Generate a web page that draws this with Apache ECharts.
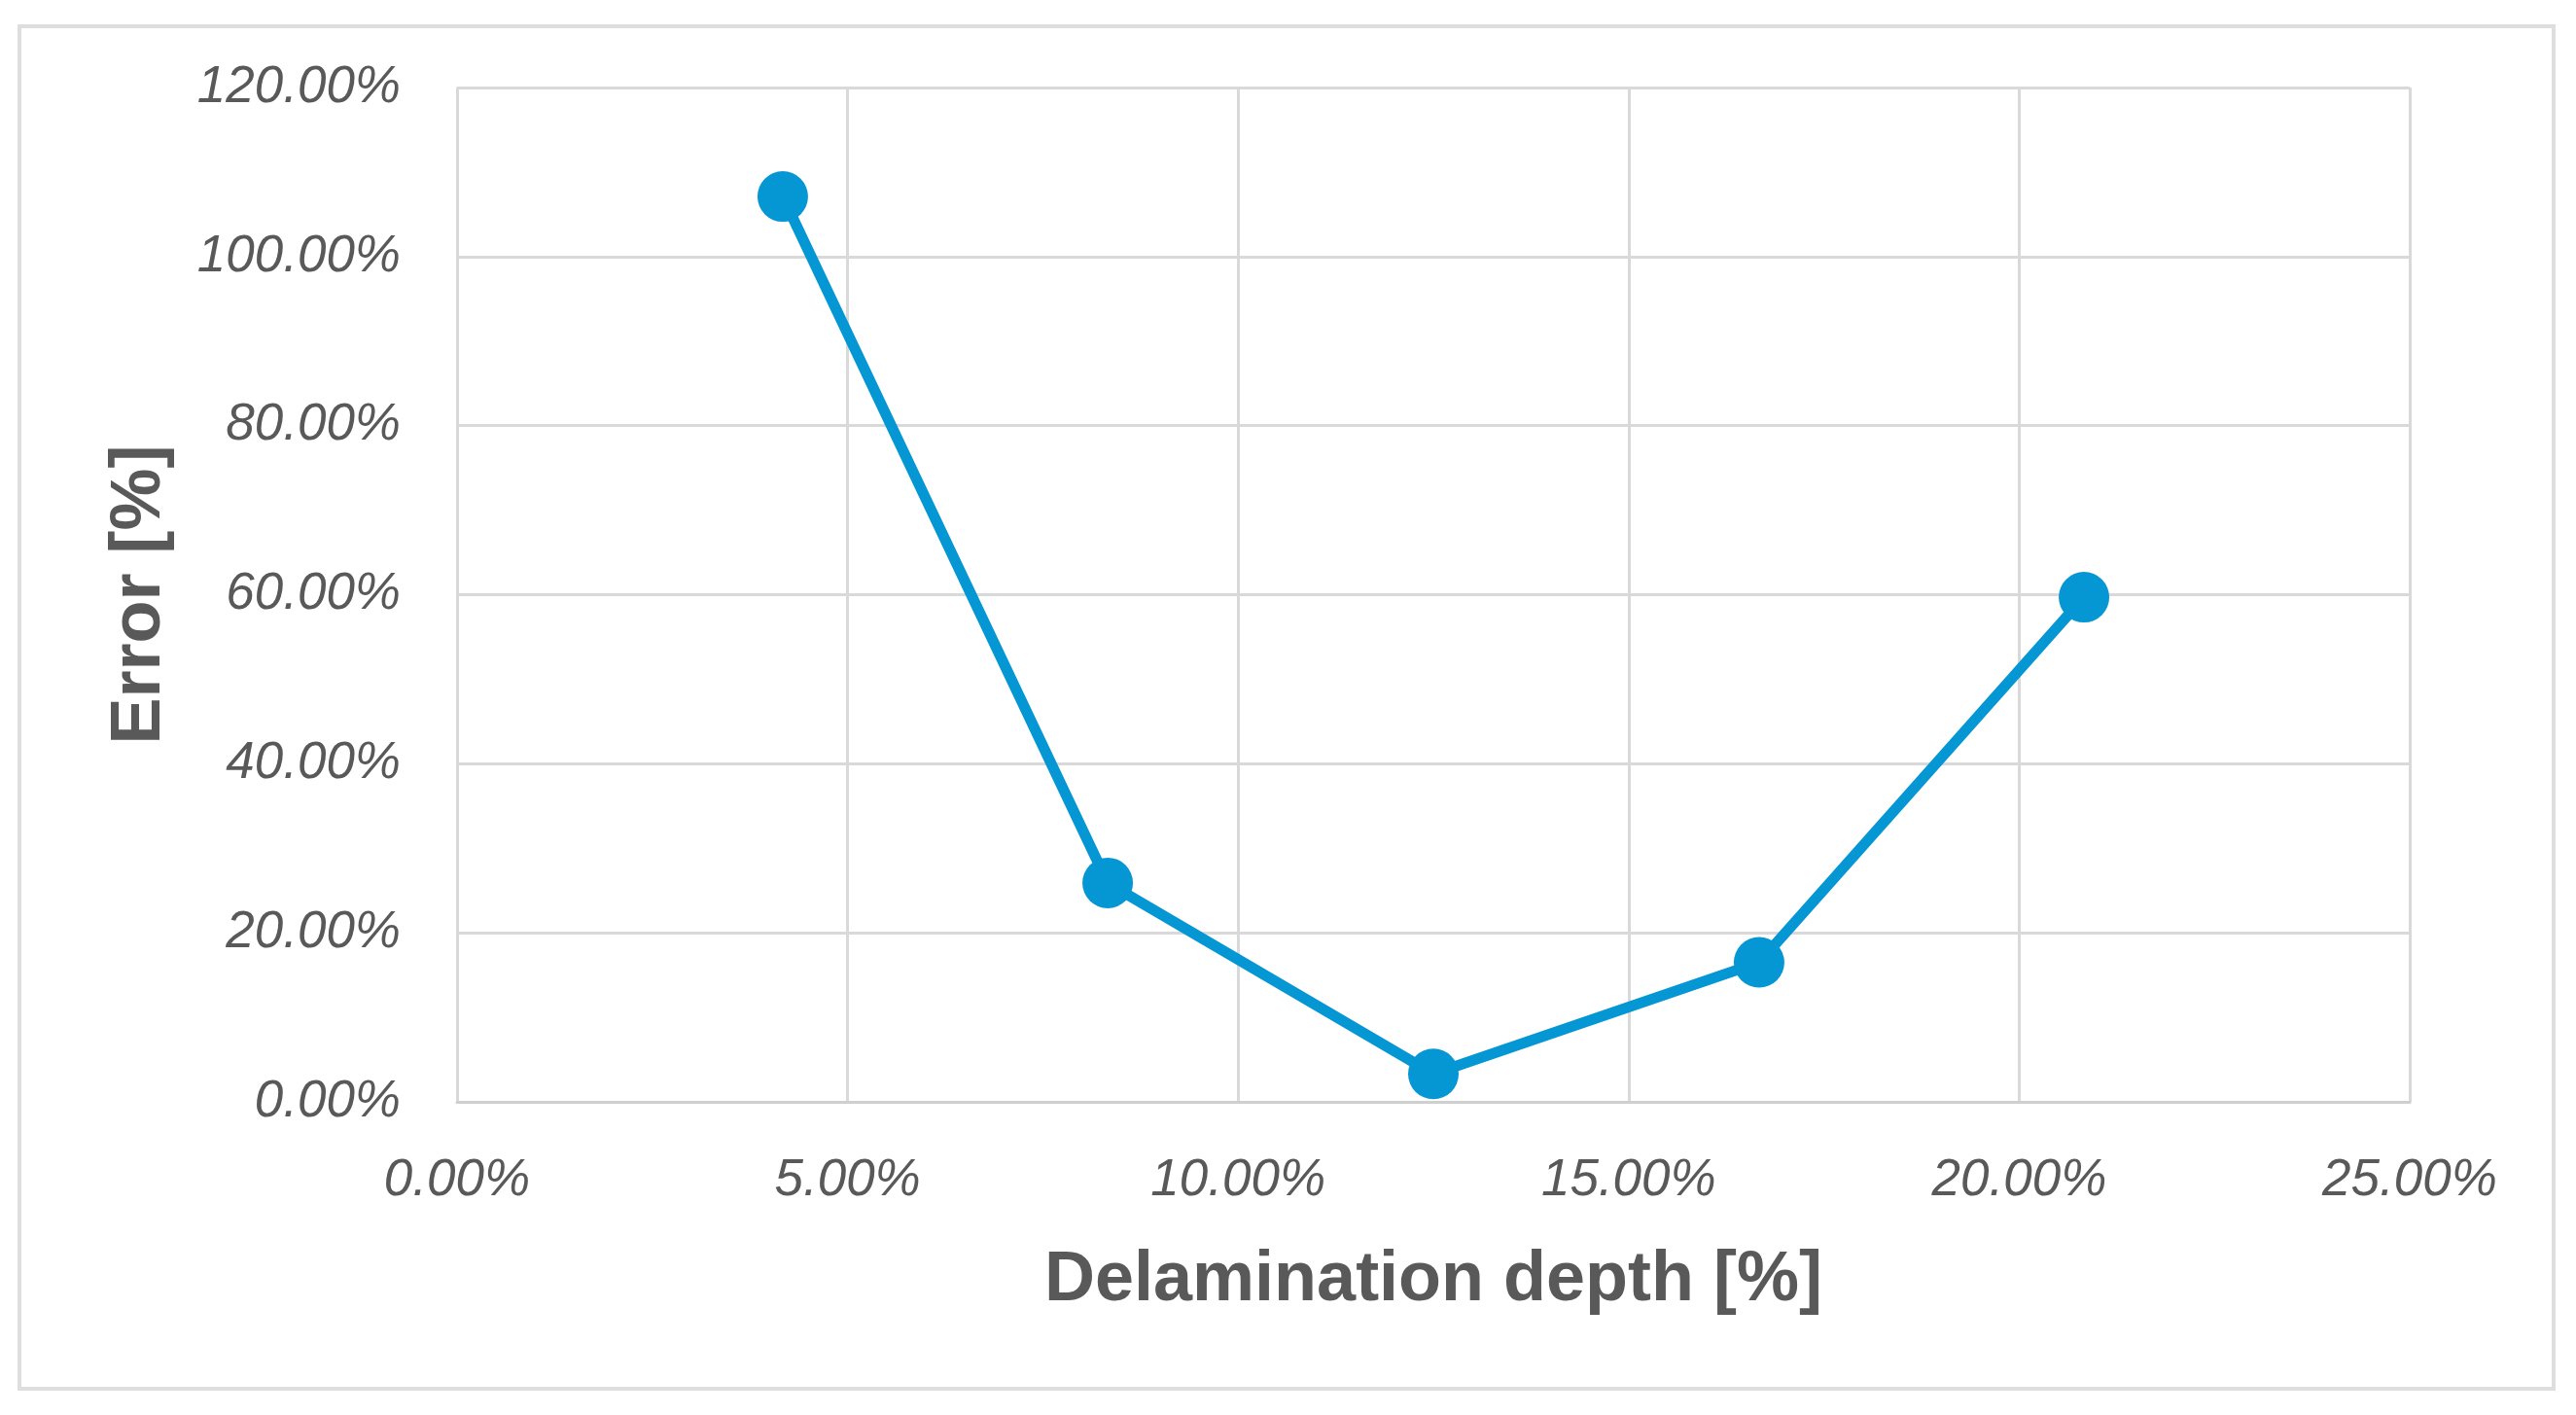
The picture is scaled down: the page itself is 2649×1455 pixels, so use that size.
<!DOCTYPE html>
<html>
<head>
<meta charset="utf-8">
<script src="https://cdn.jsdelivr.net/npm/echarts@6/dist/echarts.min.js"></script>
<style>
html,body{margin:0;padding:0;background:#fff;}
#chart{width:2649px;height:1455px;}
</style>
</head>
<body>
<div id="chart"></div>
<script>
// Data (percent units)
const delaminationDepth = [4.17, 8.33, 12.5, 16.67, 20.83];
const errorValues = [107.1, 25.9, 3.3, 16.5, 59.7];
const xAxisTitle = 'Delamination depth [%]';
const yAxisTitle = 'Error [%]';

const points = delaminationDepth.map((x, i) => [x, errorValues[i]]);
const labelColor = '#595959';
const gridColor = '#d9d9d9';
const fmt = v => v.toFixed(2) + '%';

const chart = echarts.init(document.getElementById('chart'), null, {renderer: 'canvas'});
chart.setOption({
  backgroundColor: '#ffffff',
  animation: false,
  graphic: [{
    type: 'rect',
    shape: {x: 20, y: 27, width: 2606, height: 1401},
    style: {fill: 'none', stroke: '#dedede', lineWidth: 4},
    silent: true
  }],
  grid: {left: 470, top: 90, right: 171, bottom: 322, containLabel: false},
  xAxis: {
    type: 'value',
    min: 0, max: 25, interval: 5,
    name: xAxisTitle,
    nameLocation: 'middle',
    nameGap: 148,
    nameTextStyle: {fontFamily: 'Liberation Sans', fontWeight: 'bold', fontSize: 72, color: labelColor},
    axisLine: {show: true, lineStyle: {color: '#cfcfcf', width: 3}},
    axisTick: {show: false},
    axisLabel: {formatter: fmt, fontFamily: 'Liberation Sans', fontStyle: 'italic', fontSize: 53, color: labelColor, margin: 55},
    splitLine: {show: true, lineStyle: {color: gridColor, width: 3}}
  },
  yAxis: {
    type: 'value',
    min: 0, max: 120, interval: 20,
    name: yAxisTitle,
    nameLocation: 'middle',
    nameRotate: 90,
    nameGap: 290,
    nameTextStyle: {fontFamily: 'Liberation Sans', fontWeight: 'bold', fontSize: 72, color: labelColor},
    axisLine: {show: false},
    axisTick: {show: false},
    axisLabel: {formatter: fmt, fontFamily: 'Liberation Sans', fontStyle: 'italic', fontSize: 53, color: labelColor, margin: 58},
    splitLine: {show: true, lineStyle: {color: gridColor, width: 3}}
  },
  series: [{
    type: 'line',
    data: points,
    symbol: 'circle',
    symbolSize: 52,
    lineStyle: {color: '#0596D4', width: 11},
    itemStyle: {color: '#0596D4'},
    z: 5
  }]
});
</script>
</body>
</html>
